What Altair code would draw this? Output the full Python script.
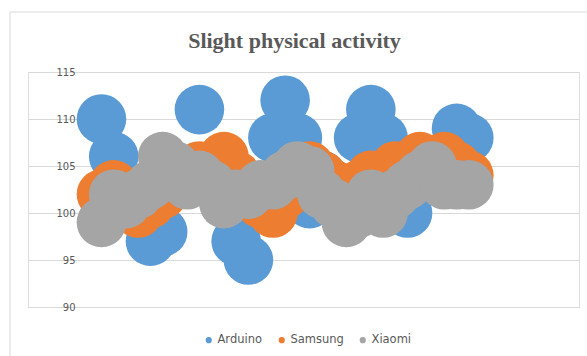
import altair as alt
import pandas as pd

# measurement index (x) and readings per device
days = list(range(1, 32))
arduino = [110, 106, 102, 101, 97, 98, 104, 104, 111, 103, 103, 97, 95, 102, 108, 112,
           108, 101, 104, 102, 101, 108, 111, 108, 103, 100, 104, 104, 105, 109, 108]
samsung = [102, 103, 101, 100, 101, 102, 103, 104, 105, 104, 106, 104, 102, 101, 100, 102,
           104, 105, 104, 103, 102, 103, 104, 104, 105, 105, 106, 105, 106, 105, 104]
xiaomi = [99, 102, 101, 102, 103, 106, 105, 103, 104, 103, 101, 102, 102, 103, 103, 104,
          105, 104.5, 102, 101, 99, 100, 102, 100, 102, 103, 104, 105, 103, 103, 103]

series_names = ["Arduino", "Samsung", "Xiaomi"]
series_colors = ["#5B9BD5", "#ED7D31", "#A5A5A5"]
y_ticks = [90, 95, 100, 105, 110, 115]

rows = []
for name, vals in zip(series_names, [arduino, samsung, xiaomi]):
    for d, v in zip(days, vals):
        rows.append({"day": d, "value": v, "series": name})
df = pd.DataFrame(rows)

points = alt.Chart(df).mark_circle(size=2460, opacity=1).encode(
    x=alt.X("day:Q", scale=alt.Scale(domain=[-5, 40], nice=False, zero=False), axis=None),
    y=alt.Y("value:Q", scale=alt.Scale(domain=[90, 115], nice=False, zero=False),
            axis=alt.Axis(values=y_ticks, title=None, domain=False, ticks=False, tickSize=0,
                          labelPadding=-47, labelFont="DejaVu Sans", labelFontSize=10,
                          labelColor="#595959", grid=True, gridColor="#D9D9D9",
                          gridWidth=1.2)),
    color=alt.Color("series:N",
                    scale=alt.Scale(domain=series_names, range=series_colors),
                    legend=alt.Legend(title=None, orient="none", direction="horizontal",
                                      legendX=175, legendY=262, symbolType="circle",
                                      symbolSize=38, labelFont="DejaVu Sans",
                                      labelFontSize=11.5, labelColor="#595959",
                                      columnPadding=13, labelOffset=3)),
)

border = alt.Chart(pd.DataFrame({"k": [0]})).mark_rect(
    fillOpacity=0, stroke="#D9D9D9", strokeWidth=1
).encode(x=alt.value(-18), x2=alt.value(620), y=alt.value(-60), y2=alt.value(400))

chart = alt.layer(border, points).properties(
    width=551, height=235,
    autosize=alt.AutoSizeParams(type="none"),
    padding={"left": 28, "top": 72, "right": 8, "bottom": 49},
    title=alt.TitleParams("Slight physical activity", font="Liberation Serif", fontSize=22,
                          fontWeight="bold", color="#595959", anchor="middle", dx=-9,
                          baseline="alphabetic", offset=-58),
).configure_view(strokeWidth=0).configure(background="white")

chart.save("out.html", embed_options={"renderer": "svg", "actions": False})
